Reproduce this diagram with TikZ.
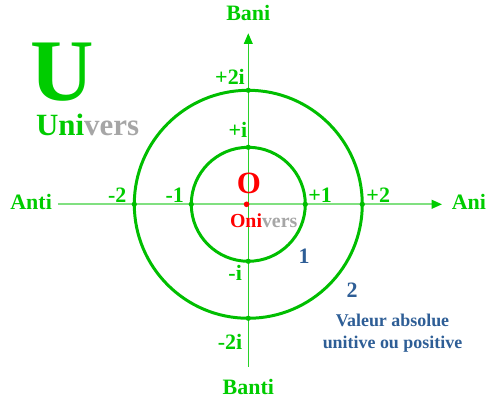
\documentclass[tikz,border=0pt]{standalone}
\usepackage{fontspec}
\setmainfont{Liberation Serif}
\usetikzlibrary{arrows.meta,positioning}
\definecolor{unigreen}{RGB}{0,204,0}
\definecolor{ringgreen}{RGB}{0,190,0}
\definecolor{axisgreen}{RGB}{128,224,128}
\definecolor{vaxisgreen}{RGB}{40,210,40}
\definecolor{versgray}{RGB}{166,166,166}
\definecolor{valblue}{RGB}{46,94,150}
\tikzset{
    lbl/.style={text=unigreen, font=\fontsize{12.5}{14}\selectfont\bfseries, inner sep=0pt},
    ring/.style={ringgreen, line width=1.7pt},
    blue lbl/.style={text=valblue, font=\fontsize{12.5}{14}\selectfont\bfseries, inner sep=0pt}
}

\begin{document}
\begin{tikzpicture}[x=1.14cm, y=1.14cm]
    \useasboundingbox (-4.356,-3.609) rectangle (4.416,3.584);

    % Axes
    \coordinate (W) at (-3.34,0);
    \coordinate (E) at (3.40,0);
    \coordinate (S) at (0,-2.85);
    \coordinate (N) at (0,3.00);
    \draw[axisgreen, line width=1.1pt, -{Triangle[length=6pt,width=5pt,color=unigreen]}] (W) -- (E);
    \draw[vaxisgreen, line width=0.6pt, -{Triangle[length=6pt,width=5pt,color=unigreen]}] (S) -- (N);

    % Circles of absolute value 1 and 2
    \draw[ring] (0,0) circle (1);
    \draw[ring] (0,0) circle (2);
    \foreach \r in {1,2} {
        \fill[ringgreen] (\r,0) circle (1.5pt);
        \fill[ringgreen] (-\r,0) circle (1.5pt);
        \fill[ringgreen] (0,\r) circle (1.5pt);
        \fill[ringgreen] (0,-\r) circle (1.5pt);
    }
    \fill[red] (-0.03,0) circle (1.6pt);

    % Axis names
    \node[lbl] (bani) at (0,3.36) {Bani};
    \node[lbl] (banti) at (0,-3.21) {Banti};
    \node[lbl] (anti) at (-3.81,0.04) {Anti};
    \node[lbl] (ani) at (3.87,0.04) {Ani};

    % Ticks labels
    \node[lbl] (p2i) at (-0.32,2.23) {+2i};
    \node[lbl] (pi) at (-0.18,1.30) {+i};
    \node[lbl] (mi) at (-0.23,-1.21) {-i};
    \node[lbl] (m2i) at (-0.32,-2.42) {-2i};
    \node[lbl] (m2) at (-2.30,0.16) {-2};
    \node[lbl] (m1) at (-1.29,0.16) {-1};
    \node[lbl] (p1) at (1.26,0.16) {+1};
    \node[lbl] (p2) at (2.28,0.16) {+2};

    % Origin
    \node[text=red, font=\fontsize{17.6}{20}\selectfont\bfseries, inner sep=0pt] (orig) at (0.01,0.37) {O};
    \node[font=\fontsize{11.3}{13}\selectfont\bfseries, inner sep=0pt] (onivers) at (0.27,-0.28) {{\color{red}Oni}{\color{versgray}vers}};

    % Radii and caption
    \node[blue lbl] (one) at (0.98,-0.91) {1};
    \node[blue lbl] (two) at (1.82,-1.50) {2};
    \node[text=valblue, font=\fontsize{10.2}{12.5}\selectfont\bfseries, align=center, inner sep=0pt] (valeur) at (2.53,-2.27) {Valeur absolue\\unitive ou positive};

    % Title
    \node[text=unigreen, font=\fontsize{50}{50}\selectfont\bfseries, inner sep=0pt] (bigU) at (-3.27,2.32) {U};
    \node[font=\fontsize{17.6}{20}\selectfont\bfseries, inner sep=0pt] (univers) at (-2.82,1.39) {{\color{unigreen}Uni}{\color{versgray}vers}};
\end{tikzpicture}
\end{document}
